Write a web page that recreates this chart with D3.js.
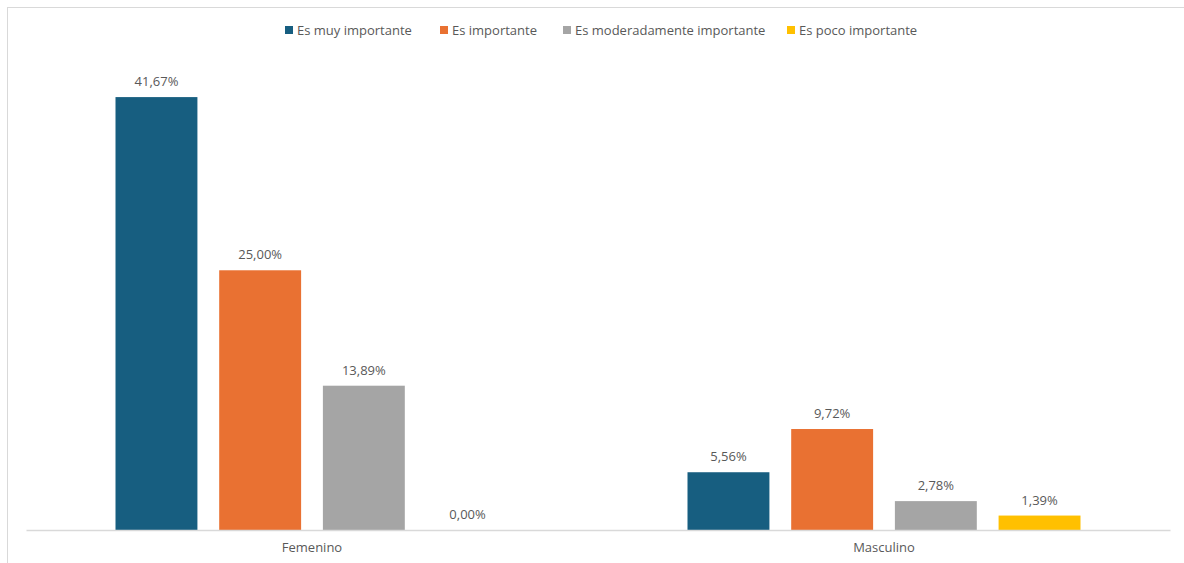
<!DOCTYPE html>
<html><head><meta charset="utf-8">
<script src="https://cdn.jsdelivr.net/npm/d3@7"></script>
<style>body{margin:0;background:#fff}svg{display:block}text{font-family:"Open Sans","Noto Sans",sans-serif;fill:#595959}</style>
</head><body><svg id="c" width="1184" height="563"></svg>
<script>
const categories = ["Femenino", "Masculino"];
const seriesNames = ["Es muy importante", "Es importante", "Es moderadamente importante", "Es poco importante"];
const seriesColors = ["#175E80", "#E97132", "#A5A5A5", "#FFC000"];
const muyImportante = [41.67, 5.56];
const importante = [25.00, 9.72];
const moderadamente = [13.89, 2.78];
const pocoImportante = [0.00, 1.39];
const seriesValues = [muyImportante, importante, moderadamente, pocoImportante];

const svg = d3.select("#c");
// chart border
svg.append("rect").attr("x", 7.5).attr("y", 7.5).attr("width", 1200).attr("height", 600)
  .attr("fill", "none").attr("stroke", "#D9D9D9");

const x0 = d3.scaleBand().domain(categories).range([26, 1170]).paddingInner(0).paddingOuter(0);
const x1 = d3.scaleBand().domain(seriesNames).range([89.5, 572 - 89.5]).paddingInner(0.21).paddingOuter(0);
const y = d3.scaleLinear().domain([0, 45]).range([530, 62.5]);

const fmt = v => v.toFixed(2).replace(".", ",") + "%";

const g = svg.append("g");
categories.forEach((cat, ci) => {
  seriesNames.forEach((s, si) => {
    const v = seriesValues[si][ci];
    const bx = x0(cat) + x1(s);
    g.append("rect").attr("x", bx).attr("y", y(v)).attr("width", x1.bandwidth())
      .attr("height", y(0) - y(v)).attr("fill", seriesColors[si]);
    g.append("text").attr("x", bx + x1.bandwidth() / 2).attr("y", y(v) - 11)
      .attr("text-anchor", "middle").attr("font-size", 13).text(fmt(v));
  });
});

// axis
const ax = svg.append("g").attr("transform", "translate(0,530)")
  .call(d3.axisBottom(x0).tickSize(0).tickPadding(13));
ax.select(".domain").attr("stroke", "#D9D9D9").attr("stroke-width", 1.5);
ax.selectAll("text").attr("font-size", 13).attr("fill", "#595959")
  .style("font-family", '"Open Sans","Noto Sans",sans-serif');

// legend
const legX = [285, 440, 563, 787];
const leg = svg.append("g");
seriesNames.forEach((s, i) => {
  leg.append("rect").attr("x", legX[i]).attr("y", 26).attr("width", 8).attr("height", 8).attr("fill", seriesColors[i]);
  leg.append("text").attr("x", legX[i] + 12).attr("y", 35).attr("font-size", 13).text(s);
});
</script></body></html>
